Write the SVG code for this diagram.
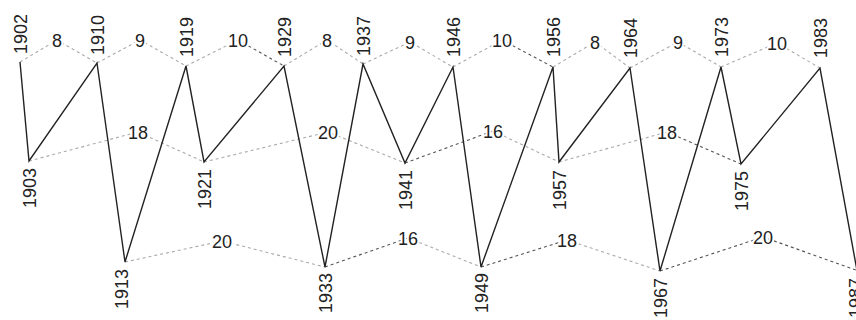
<svg xmlns="http://www.w3.org/2000/svg" width="856" height="320" viewBox="0 0 856 320">
<style>
text{font-family:"Liberation Sans",Arial,sans-serif;font-size:18px;fill:#222}
.el{text-anchor:middle;stroke:#fff;stroke-width:4;paint-order:stroke;stroke-linejoin:round}
.top{text-anchor:start}
.bot{text-anchor:end}
.d{fill:none;stroke:#aaa;stroke-width:1.1;stroke-dasharray:3 3}
.k{stroke:#555}
.s{fill:none;stroke:#222;stroke-width:1.4;stroke-linejoin:miter}
</style>
<rect width="856" height="320" fill="#fff"/>
<g id="connectors">
<path class="d" d="M20 62L57 40L97 63"/>
<path class="d" d="M97 63L140 40L186 66"/>
<path class="d" d="M186 66L238 40"/>
<path class="d k" d="M238 40L284 66"/>
<path class="d" d="M284 66L327 40L363 64"/>
<path class="d" d="M363 64L410 42L453 67"/>
<path class="d" d="M453 67L502 40"/>
<path class="d k" d="M502 40L553 67"/>
<path class="d" d="M553 67L595 42L630 68"/>
<path class="d" d="M630 68L678 42L721 67"/>
<path class="d" d="M721 67L777 43L820 68"/>
<path class="d" d="M29 161L138 132L204 162"/>
<path class="d" d="M204 162L328 132L405 163"/>
<path class="d k" d="M405 163L493 131"/>
<path class="d" d="M493 131L559 162"/>
<path class="d" d="M559 162L667 132"/>
<path class="d k" d="M667 132L741 164"/>
<path class="d" d="M125 262L222 241L325 267"/>
<path class="d k" d="M325 267L408 238"/>
<path class="d" d="M408 238L481 267"/>
<path class="d k" d="M481 267L567 240"/>
<path class="d" d="M567 240L660 271"/>
<path class="d k" d="M660 271L763 237L856 270"/>
<path class="s" d="M20 62L29 161L97 63L125 262L186 66L204 162L284 66L325 267L363 64L405 163L453 67L481 267L553 67L559 162L630 68L660 271L721 67L741 164L820 68L858 276"/>
<text class="el" x="57" y="46.5">8</text>
<text class="el" x="140" y="46.5">9</text>
<text class="el" x="238" y="46.5">10</text>
<text class="el" x="327" y="46.5">8</text>
<text class="el" x="410" y="48.5">9</text>
<text class="el" x="502" y="46.5">10</text>
<text class="el" x="595" y="48.5">8</text>
<text class="el" x="678" y="48.5">9</text>
<text class="el" x="777" y="49.5">10</text>
<text class="el" x="138" y="138.5">18</text>
<text class="el" x="328" y="138.5">20</text>
<text class="el" x="493" y="137.5">16</text>
<text class="el" x="667" y="138.5">18</text>
<text class="el" x="222" y="247.5">20</text>
<text class="el" x="408" y="244.5">16</text>
<text class="el" x="567" y="246.5">18</text>
<text class="el" x="763" y="243.5">20</text>
</g>
<g id="n1902"><text class="top" transform="translate(26.5 54) rotate(-90)">1902</text></g>
<g id="n1910"><text class="top" transform="translate(103.5 55) rotate(-90)">1910</text></g>
<g id="n1919"><text class="top" transform="translate(192.5 57) rotate(-90)">1919</text></g>
<g id="n1929"><text class="top" transform="translate(290.5 57) rotate(-90)">1929</text></g>
<g id="n1937"><text class="top" transform="translate(369.5 56) rotate(-90)">1937</text></g>
<g id="n1946"><text class="top" transform="translate(459.5 57) rotate(-90)">1946</text></g>
<g id="n1956"><text class="top" transform="translate(559.5 57) rotate(-90)">1956</text></g>
<g id="n1964"><text class="top" transform="translate(636.5 58) rotate(-90)">1964</text></g>
<g id="n1973"><text class="top" transform="translate(727.5 57) rotate(-90)">1973</text></g>
<g id="n1983"><text class="top" transform="translate(826.5 58) rotate(-90)">1983</text></g>
<g id="n1903"><text class="bot" transform="translate(36 168) rotate(-90)">1903</text></g>
<g id="n1921"><text class="bot" transform="translate(210.5 169) rotate(-90)">1921</text></g>
<g id="n1941"><text class="bot" transform="translate(411.5 170) rotate(-90)">1941</text></g>
<g id="n1957"><text class="bot" transform="translate(565.5 170) rotate(-90)">1957</text></g>
<g id="n1975"><text class="bot" transform="translate(747.5 171) rotate(-90)">1975</text></g>
<g id="n1913"><text class="bot" transform="translate(128 269) rotate(-90)">1913</text></g>
<g id="n1933"><text class="bot" transform="translate(331.5 273) rotate(-90)">1933</text></g>
<g id="n1949"><text class="bot" transform="translate(487.5 273) rotate(-90)">1949</text></g>
<g id="n1967"><text class="bot" transform="translate(666.5 278) rotate(-90)">1967</text></g>
<g id="n1987"><text class="bot" transform="translate(862 278) rotate(-90)">1987</text></g>
</svg>
